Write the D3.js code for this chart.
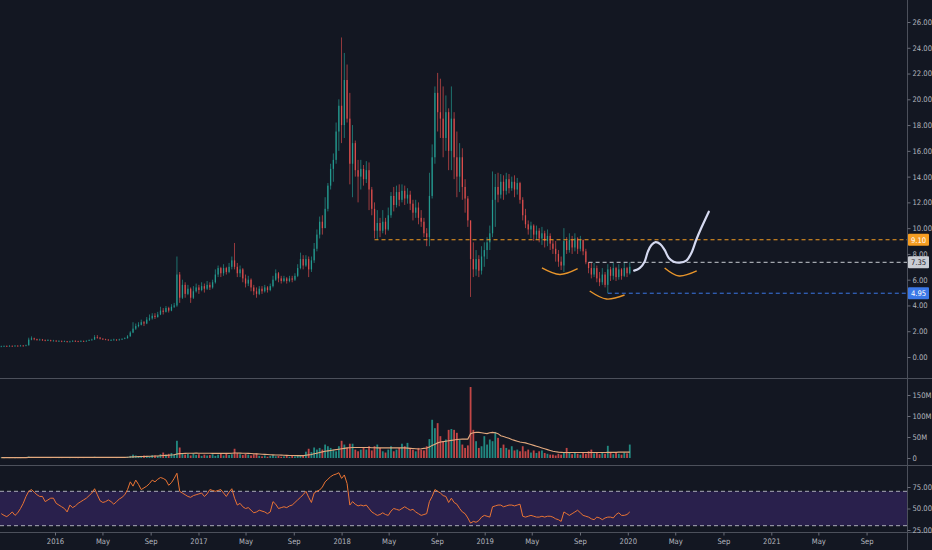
<!DOCTYPE html>
<html><head><meta charset="utf-8">
<script src="https://cdn.jsdelivr.net/npm/d3@7/dist/d3.min.js"></script>
<style>
html,body{margin:0;padding:0;background:#131722;}
svg{display:block;}
text{font-family:"Liberation Sans Narrow","Arial Narrow","DejaVu Sans Condensed","Liberation Sans",sans-serif;}
</style></head>
<body><svg id="c" width="932" height="550"></svg>
<script>
// ---------- DATA (weekly bars, first bar week of 2015-08-17) ----------
const firstOpen = 0.80;
const closes = [
0.82,0.85,0.83,0.86,0.84,0.87,0.85,0.88,0.86,0.90,
1.35,1.45,1.38,1.32,1.35,1.30,1.28,1.30,1.25,1.27,
1.22,1.25,1.20,1.22,1.18,1.20,1.25,1.22,1.20,1.24,
1.22,1.25,1.30,1.35,1.55,1.50,1.42,1.38,1.35,1.30,
1.32,1.35,1.30,1.36,1.40,1.45,1.60,1.90,2.20,2.40,
2.50,2.70,2.60,2.90,3.00,3.20,3.10,3.30,3.60,3.50,
3.80,3.60,3.90,4.00,6.40,4.60,5.60,4.90,5.30,4.60,
5.10,5.40,5.20,5.50,5.30,5.60,5.40,5.80,6.40,6.90,
6.50,6.90,6.60,7.00,7.50,7.00,6.50,6.80,6.10,5.70,
6.00,5.40,5.10,4.90,5.30,5.10,5.40,5.20,5.50,6.00,
6.50,6.10,5.90,6.10,5.90,6.10,6.00,6.30,6.90,7.60,
7.10,7.60,6.80,7.50,8.40,9.50,10.50,10.00,11.50,13.30,
14.60,15.30,17.50,19.50,18.00,21.50,18.50,15.00,16.60,14.50,
14.00,14.60,13.80,14.50,13.00,11.50,9.80,10.40,9.80,10.50,
9.90,11.00,12.50,11.80,12.80,12.20,12.90,12.30,12.60,11.90,
11.20,11.60,10.80,10.50,9.60,9.30,12.50,15.50,20.50,19.00,
18.50,17.00,19.00,16.00,18.50,15.50,14.00,15.50,13.20,12.30,
10.60,7.60,6.80,7.60,6.70,7.80,8.30,8.90,9.60,12.20,
13.20,12.60,13.60,12.90,13.80,13.10,13.60,13.00,13.50,12.20,
11.00,10.30,9.90,10.20,9.50,9.80,9.20,9.60,9.00,9.40,
8.80,8.40,8.00,7.40,7.10,9.00,8.30,9.10,8.50,9.20,
8.40,9.10,8.20,7.35,6.90,6.40,6.90,6.10,5.80,6.40,
5.60,6.80,6.30,6.90,6.20,6.80,6.30,6.90,6.50,7.00];
const highs = [
0.88,0.90,0.90,0.92,0.90,0.93,0.92,0.94,0.93,0.96,
1.50,1.60,1.50,1.42,1.42,1.40,1.36,1.38,1.34,1.33,
1.30,1.30,1.28,1.28,1.25,1.26,1.30,1.30,1.26,1.30,
1.28,1.30,1.36,1.42,1.70,1.70,1.55,1.46,1.42,1.38,
1.38,1.42,1.38,1.42,1.46,1.52,1.70,2.00,2.70,2.60,
2.70,2.90,2.80,3.10,3.30,3.40,3.40,3.50,3.90,3.80,
3.95,3.90,4.10,4.20,7.80,6.60,6.00,5.80,5.60,5.40,
5.50,5.70,5.60,5.80,5.70,5.90,5.80,6.00,6.80,7.10,
7.00,7.20,7.00,7.30,7.80,8.85,7.30,7.10,6.90,6.40,
6.30,6.10,5.60,5.40,5.50,5.50,5.60,5.50,5.70,6.30,
6.80,6.60,6.30,6.30,6.20,6.30,6.30,6.50,7.20,8.10,
7.90,7.90,7.80,7.80,8.85,9.90,10.90,11.00,12.40,13.50,
15.00,15.80,18.20,20.00,24.80,23.60,22.70,20.50,18.00,16.80,
15.30,15.30,14.90,15.20,15.10,13.20,12.00,11.40,10.80,11.40,
10.80,11.60,12.80,13.20,13.30,13.40,13.40,13.30,13.10,12.90,
12.20,12.20,12.00,11.40,10.80,10.00,14.30,16.50,21.00,22.05,
21.60,21.00,20.30,19.30,21.00,19.00,17.50,16.60,16.20,13.80,
12.50,10.40,8.90,8.30,7.90,8.60,8.90,9.30,10.20,14.40,
14.20,14.30,14.20,14.10,14.30,14.20,14.00,14.10,13.90,13.60,
12.40,11.50,10.60,10.50,10.30,10.20,10.00,10.10,9.80,9.90,
9.60,9.10,9.00,8.30,7.80,10.00,9.30,9.60,9.40,9.60,
9.30,9.40,9.10,8.40,7.35,7.30,7.30,7.10,6.60,6.90,
6.60,7.20,7.00,7.30,7.00,7.20,6.90,7.30,7.00,7.35];
const lows = [
0.78,0.80,0.79,0.81,0.80,0.82,0.81,0.83,0.82,0.84,
0.90,1.30,1.30,1.26,1.28,1.25,1.22,1.24,1.20,1.21,
1.17,1.18,1.15,1.16,1.12,1.14,1.18,1.17,1.15,1.18,
1.17,1.20,1.24,1.28,1.33,1.42,1.36,1.32,1.30,1.25,
1.26,1.28,1.25,1.28,1.34,1.38,1.44,1.58,1.85,2.10,
2.30,2.45,2.40,2.55,2.80,2.90,2.95,3.05,3.25,3.30,
3.45,3.45,3.55,3.80,3.90,4.20,4.50,4.60,4.80,4.20,
4.50,5.00,4.90,5.10,5.00,5.20,5.20,5.30,5.70,6.20,
6.20,6.30,6.40,6.50,6.80,6.80,6.20,6.20,5.80,5.40,
5.50,5.10,4.80,4.60,4.80,4.90,5.00,5.00,5.10,5.40,
5.90,5.80,5.70,5.80,5.70,5.80,5.80,5.90,6.20,6.80,
6.80,7.00,6.20,6.60,7.30,8.20,9.20,9.50,10.00,11.30,
13.00,13.60,15.00,16.00,16.60,17.00,18.20,13.40,12.40,14.00,
12.00,13.00,13.30,13.50,11.40,11.00,9.20,9.10,9.30,9.60,
9.50,9.80,10.80,11.30,11.60,11.70,12.00,11.80,11.90,11.40,
10.60,10.80,10.30,10.10,9.30,8.60,8.60,12.30,15.00,17.50,
17.00,15.50,16.00,14.50,14.50,13.80,12.40,12.80,12.20,11.20,
10.10,4.66,6.20,6.30,6.20,6.40,7.00,7.60,8.30,9.30,
10.10,12.00,12.30,12.20,12.60,12.70,12.90,12.40,12.60,11.90,
10.60,10.00,9.50,9.20,9.00,9.10,8.90,8.70,8.50,8.60,
8.30,8.00,7.40,7.00,6.75,6.60,8.00,8.10,8.00,8.20,
8.00,8.20,7.90,7.20,6.50,6.10,6.20,5.80,5.50,5.60,
5.40,4.95,5.90,6.00,5.90,6.00,6.00,6.20,6.20,6.40];
// volume in millions
const volumes = [
1.0,0.8,1.2,0.9,1.1,0.8,1.0,0.9,1.3,1.6,
3.5,2.5,1.8,1.5,1.4,1.2,1.3,1.1,1.0,1.2,
1.1,0.9,1.0,1.2,1.3,0.9,1.1,1.0,0.8,1.2,
1.0,1.3,1.5,1.8,3.0,2.2,1.6,1.4,1.2,1.1,
1.3,1.2,1.0,1.4,1.5,1.8,3.0,5.0,8.0,6.0,
4,5,6,5,4,7,6,5,9,13,
8,10,12,9,41,25,12,8,10,6,
11,7,9,5,8,6,7,9,5,8,
10,6,12,7,9,22,12,9,7,10,
8,6,9,11,5,4,6,3,5,7,
4,5,3,4,6,3,5,4,6,7,
5,15,22,14,25,20,24,20,32,28,
24,20,16,28,41,32,24,34,34,20,
16,20,24,20,28,18,28,32,24,16,
13,20,28,16,20,24,34,28,36,24,
20,16,24,20,18,28,45,91,71,83,
52,40,44,67,69,67,60,44,32,24,
30,169,67,40,24,28,52,32,44,40,
62,48,24,32,24,20,28,18,20,16,
28,16,20,13,18,12,16,18,12,10,
8,8,6,10,8,13,24,12,9,14,
10,8,12,10,16,20,11,14,9,13,
10,29,12,9,14,10,8,13,11,32];
const volumeMA = [
1.0,1.0,1.0,1.0,1.0,1.0,1.0,1.0,1.0,1.0,
1.5,1.5,1.5,1.5,1.5,1.5,1.5,1.5,1.5,1.5,
1.5,1.5,1.5,1.5,1.5,1.5,1.5,1.5,1.5,1.5,
1.5,1.5,1.5,1.5,1.5,1.5,1.5,1.5,1.5,1.5,
1.5,1.5,1.5,1.5,1.5,1.5,1.8,2.2,2.6,3.0,
3.2,3.4,3.6,3.8,4.0,4.3,4.6,4.9,5.3,5.8,
6.2,6.7,7.2,7.6,9.5,10.5,10.8,11,11.2,11.3,
11.4,11.5,11.4,11.3,11.2,11.3,11.2,11.1,11,11,
11.1,11,11,11.1,11.2,11.8,11.8,11.6,11.4,11.2,
11,10.6,10.2,9.8,9.4,9,8.6,8.2,7.8,7.5,
7.2,7,6.8,6.5,6.3,6.1,6,5.8,5.7,5.6,
5.6,6.5,7.5,8.5,10,11.5,13,14.5,16,17,
18,19,20,21,22,23,24,24.5,25,25,
25,25,25,25,25,24.5,24.5,24,24,24,
24,24,24,24,24,24,24,24,23.5,23,
22.5,22,21.5,22,23,24,26,30,33,36,
38,39,40,41,42,43,44,44.5,45,45,
45,58,60,61,61,60,59,58,60,61,
60,58,53,51,49,47,44,42,40,38,
37,36,34,32,30,28,26,24,22,20,
18,16,15,14,13.5,13,13,13,13,13,
13,13,13,13,13,13,13,13,13,13,
13,13.5,13.5,13.5,13.5,14,14,14,14,14];
const rsi = [
44,42,40.5,43,46,42,45,50,56,64,
70,72,69,66,64,64,58,60,62,62,
56,54,52,50,46,54,51,53,56,58,
60,62,65,68,73,66,59,57,58,60,
58,55,58,61,63,66,72,81,76,83,
78,72,74,76,79,83,81,84,86,85,
83,77,80,85,91,70,68,66,64,63,
65,66,67,68,64,67,72,71,70,71,
72,68,64,69,73,62,54,56,52,50,
51,48,45,46,48,47,46,44,46,58,
55,50,51,52,51,53,54,57,60,63,
66,70,63,57,68,70,71.5,75,81,84,
87,89,90,91.6,85,89,79,54,58,55,
53,54,53,54,50,46,44,42,43,45,
43,42,47,50,49,48,50,52,50,48,
49,46,44,42,43,44,58,64,72,70,
68,65,64,57,62,57,55,50,46,44,
39,33,35,34,36,40,42,41,40,52,
53,54,54,52,53,54,54,53,54,55,
41,40,41,42,41,40,40,41,40,41,
41,40,38,37,35,46,44,42,44,46,
48,45,42,41,40,38,37,40,39,37,
39,40,40,39,43,45,42,42,43,46];
// tick labels
const priceTicks = [0,2,4,6,8,10,12,14,16,18,20,22,24,26];
const volumeTicks = [0,50,100,150];
const volumeTickLabels = ["0","50M","100M","150M"];
const rsiTicks = [25,50,75];
const rsiLevels = [70,30];
const timeTicks = ["2016-01-01","2016-05-01","2016-09-01","2017-01-01","2017-05-01","2017-09-01",
  "2018-01-01","2018-05-01","2018-09-01","2019-01-01","2019-05-01","2019-09-01",
  "2020-01-01","2020-05-01","2020-09-01","2021-01-01","2021-05-01","2021-09-01"];
const monthNames = ["Jan","Feb","Mar","Apr","May","Jun","Jul","Aug","Sep","Oct","Nov","Dec"];
// horizontal price lines: level, first bar index, label colours
const levelPrices = [9.10, 7.35, 4.95];
const levelStart = [136, 214, 221];
const levelColors = ["#f59d22", "#c9ccd3", "#3b78e7"];
const levelText = ["#ffffff", "#1e222d", "#ffffff"];
// hand-drawn arcs (bar index, price) start / bottom / end
const arcs = [
  [[197.0,6.91],[203.5,6.40],[210.0,6.85]],
  [[214.4,5.12],[220.5,4.50],[227.1,4.81]],
  [[241.7,6.91],[247.0,6.29],[253.4,6.68]]
];
// projected path (bar index, price)
const projIdx = [230.6,232.6,234.4,235.6,236.9,238.4,240.1,241.7,243.3,245.0,247.2,249.6,251.4,253.2,255.0,257.8];
const projPrice = [6.70,6.89,7.40,8.18,8.70,8.91,8.77,8.31,7.66,7.40,7.32,7.48,8.05,9.08,9.99,11.28];

// ---------- LAYOUT ----------
const W = 932, H = 550, axisX = 907.5;
const startMs = Date.UTC(2015,7,17);
const dateOf = i => new Date(startMs + i*7*864e5);
const x = d3.scaleUtc().domain([new Date(Date.UTC(2016,0,1)), new Date(Date.UTC(2021,0,1))]).range([55, 771.3]);
const xi = i => x(dateOf(i));
const yP = d3.scaleLinear().domain([0,26]).range([357,22]);
const yV = d3.scaleLinear().domain([0,150]).range([458,395]);
const yR = d3.scaleLinear().domain([25,75]).range([530,487]);

const UP = "#26a69a", DN = "#ef5350";
const TXT = "#b2b5be", SEP = "#4c505b";

const svg = d3.select("#c");
svg.append("rect").attr("width",W).attr("height",H).attr("fill","#131722");

const bars = closes.map((c,i)=>{
  const o = i===0 ? firstOpen : closes[i-1];
  return {i, o, c, h: Math.max(highs[i],o,c), l: Math.min(lows[i],o,c), v: volumes[i], up: c>=o};
});

// ---------- RSI pane ----------
svg.append("rect").attr("x",0).attr("width",axisX).attr("y",yR(70)).attr("height",yR(30)-yR(70))
  .attr("fill","#29204c");
svg.selectAll(".rl").data(rsiLevels).join("line").attr("x1",0).attr("x2",axisX)
  .attr("y1",d=>yR(d)).attr("y2",d=>yR(d)).attr("stroke","#c3c6ce").attr("stroke-width",1)
  .attr("stroke-dasharray","4,3").attr("opacity",0.85);
svg.append("path").datum(rsi).attr("fill","none").attr("stroke","#ea7434").attr("stroke-width",1)
  .attr("d", d3.line().x((d,i)=>xi(i)).y(d=>yR(d)));

// ---------- Volume pane ----------
svg.append("g").selectAll("rect").data(bars).join("rect")
  .attr("x",d=>xi(d.i)-0.9).attr("width",1.8)
  .attr("y",d=>yV(d.v)).attr("height",d=>Math.max(0.5,yV(0)-yV(d.v)))
  .attr("fill",d=>d.up?UP:DN).attr("opacity",0.8);
svg.append("path").datum(volumeMA).attr("fill","none").attr("stroke","#e3a97e").attr("stroke-width",1.1)
  .attr("d", d3.line().x((d,i)=>xi(i)).y(d=>yV(d)));

// ---------- Price pane ----------
const cg = svg.append("g");
cg.selectAll("line").data(bars).join("line")
  .attr("x1",d=>xi(d.i)).attr("x2",d=>xi(d.i))
  .attr("y1",d=>yP(d.h)).attr("y2",d=>yP(d.l))
  .attr("stroke",d=>d.up?UP:DN).attr("stroke-width",0.8).attr("opacity",0.8);
cg.selectAll("rect").data(bars).join("rect")
  .attr("x",d=>xi(d.i)-0.65).attr("width",1.3)
  .attr("y",d=>yP(Math.max(d.o,d.c))).attr("height",d=>Math.max(0.7,Math.abs(yP(d.o)-yP(d.c))))
  .attr("fill",d=>d.up?UP:DN).attr("opacity",0.8);

// level lines
levelPrices.forEach((p,k)=>{
  svg.append("line").attr("x1",xi(levelStart[k])).attr("x2",axisX)
    .attr("y1",yP(p)).attr("y2",yP(p)).attr("stroke",levelColors[k]).attr("stroke-width",1)
    .attr("stroke-dasharray","4,3");
});
// arcs
const arcLine = d3.line().x(d=>xi(d[0])).y(d=>yP(d[1])).curve(d3.curveNatural);
arcs.forEach(a=>{
  svg.append("path").attr("d",arcLine(a)).attr("fill","none").attr("stroke","#e8952b").attr("stroke-width",1.4);
});
// projection
svg.append("path").datum(projIdx.map((d,k)=>[d,projPrice[k]])).attr("fill","none")
  .attr("stroke","#d5d9f0").attr("stroke-width",2.2).attr("stroke-linecap","round")
  .attr("d", d3.line().x(d=>xi(d[0])).y(d=>yP(d[1])).curve(d3.curveCatmullRom));

// ---------- separators ----------
[378,465,532].forEach(y=>{
  svg.append("line").attr("x1",0).attr("x2",W).attr("y1",y+0.5).attr("y2",y+0.5).attr("stroke",SEP).attr("stroke-width",1);
});
svg.append("line").attr("x1",axisX).attr("x2",axisX).attr("y1",0).attr("y2",H).attr("stroke",SEP).attr("stroke-width",1);

// ---------- axes ----------
function styleAxis(g){
  g.select(".domain").remove();
  g.selectAll(".tick line").attr("stroke","#6a6d78");
  g.selectAll(".tick text").attr("fill",TXT).style("font-size","7.6px")
   .style("font-family",'"Liberation Sans Narrow","Arial Narrow","DejaVu Sans Condensed","Liberation Sans",sans-serif');
}
svg.append("g").attr("transform",`translate(${axisX},0)`)
  .call(d3.axisRight(yP).tickValues(priceTicks).tickFormat(d3.format(".2f")).tickSize(3).tickPadding(2))
  .call(styleAxis);
svg.append("g").attr("transform",`translate(${axisX},0)`)
  .call(d3.axisRight(yV).tickValues(volumeTicks).tickFormat((d,k)=>volumeTickLabels[k]).tickSize(3).tickPadding(2))
  .call(styleAxis);
svg.append("g").attr("transform",`translate(${axisX},0)`)
  .call(d3.axisRight(yR).tickValues(rsiTicks).tickFormat(d3.format(".2f")).tickSize(3).tickPadding(2))
  .call(styleAxis);
svg.append("g").attr("transform","translate(0,532.5)")
  .call(d3.axisBottom(x).tickValues(timeTicks.map(s=>new Date(s+"T00:00:00Z")))
    .tickFormat(d=>d.getUTCMonth()===0? String(d.getUTCFullYear()) : monthNames[d.getUTCMonth()])
    .tickSize(3).tickPadding(3))
  .call(styleAxis);

// level labels on axis
levelPrices.forEach((p,k)=>{
  const g = svg.append("g");
  g.append("rect").attr("x",axisX+0.5).attr("y",yP(p)-6).attr("width",21).attr("height",12)
    .attr("fill",levelColors[k]).attr("rx",1);
  g.append("text").attr("x",axisX+11).attr("y",yP(p)+3).attr("text-anchor","middle")
    .attr("fill",levelText[k]).style("font-size","7.6px").text(d3.format(".2f")(p));
});
</script></body></html>
